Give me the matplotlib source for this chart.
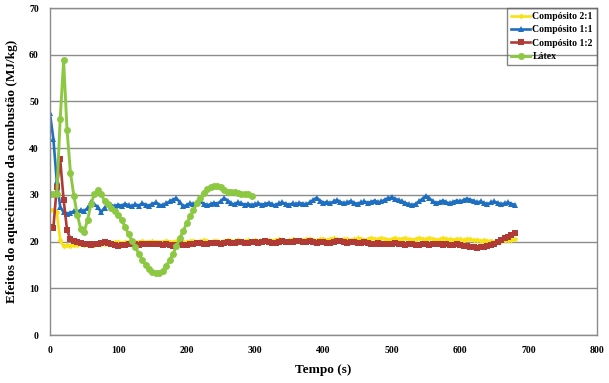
import numpy as np
import matplotlib
matplotlib.use("Agg")
import matplotlib.pyplot as plt

plt.rcParams['font.family'] = ['Liberation Serif', 'DejaVu Serif']

# tempo (s), amostras a cada 5 s
tempo = list(range(0, 685, 5))
tempo_latex = list(range(0, 300, 5))

comp_2_1 = [
    26.8, 26.8, 26.4, 20.3, 19.0, 19.2, 19.1, 19.3, 19.2, 19.4,
    19.3, 19.2, 19.4, 19.3, 19.5, 19.6, 19.5, 19.7, 19.8, 19.9,
    20.0, 19.8, 19.9, 20.0, 20.1, 19.9, 20.0, 20.1, 19.9, 20.0,
    20.1, 20.0, 19.9, 20.0, 20.2, 20.0, 19.9, 20.1, 20.0, 19.9,
    20.0, 20.1, 20.2, 20.0, 20.1, 20.3, 20.1, 20.0, 20.2, 20.1,
    20.0, 20.2, 20.3, 20.1, 20.2, 20.4, 20.2, 20.1, 20.3, 20.2,
    20.3, 20.1, 20.2, 20.4, 20.3, 20.2, 20.4, 20.5, 20.3, 20.2,
    20.3, 20.5, 20.4, 20.2, 20.3, 20.5, 20.6, 20.4, 20.3, 20.5,
    20.6, 20.4, 20.5, 20.7, 20.5, 20.4, 20.6, 20.5, 20.3, 20.5,
    20.7, 20.6, 20.4, 20.5, 20.8, 20.6, 20.5, 20.7, 20.6, 20.4,
    20.6, 20.8, 20.5, 20.6, 20.7, 20.5, 20.4, 20.6, 20.8, 20.6,
    20.5, 20.7, 20.6, 20.4, 20.5, 20.7, 20.6, 20.5, 20.4, 20.6,
    20.5, 20.4, 20.6, 20.5, 20.3, 20.4, 20.2, 20.3, 20.1, 20.2,
    20.0, 20.1, 20.2, 20.3, 20.4, 20.3, 20.5]

comp_1_1 = [
    47.5, 42.0, 33.0, 27.5, 26.3, 26.0, 26.2, 26.5, 26.4, 26.8,
    26.5, 27.2, 28.5, 28.0, 27.4, 26.3, 27.3, 28.0, 27.8, 27.6,
    27.9, 27.7, 28.1, 27.8, 27.6, 28.0, 27.7, 28.2, 27.9, 27.7,
    28.1, 28.4, 27.9, 27.8, 28.2, 28.6, 29.0, 29.3, 28.4, 27.6,
    27.8, 28.2, 28.0, 28.4, 28.6, 28.1, 27.8, 28.0, 28.3, 28.1,
    28.7, 29.3, 28.8, 28.2, 28.0, 28.4, 28.2, 27.9, 28.1, 27.8,
    28.0, 28.2, 27.9, 28.1, 28.3, 28.0, 27.8, 28.2, 28.4, 28.1,
    27.9, 28.2, 28.0, 28.3, 28.1, 28.0, 28.4, 28.9, 29.4, 28.8,
    28.3, 28.5, 28.2, 28.6, 28.9, 28.5, 28.2, 28.4, 28.7, 28.3,
    28.1, 28.4, 28.6, 28.3, 28.5, 28.8, 28.4, 28.6, 29.0, 29.3,
    29.5, 29.2, 28.9, 28.6, 28.3, 28.0, 27.8, 28.1, 28.6, 29.2,
    29.8, 29.3, 28.6, 28.3, 28.5, 28.8, 28.4, 28.2, 28.5, 28.8,
    28.6, 28.9, 29.2, 29.0, 28.7, 28.4, 28.6, 28.3, 28.0, 28.4,
    28.6, 28.3, 28.0, 28.2, 28.4, 28.1, 27.9]

comp_1_2 = [
    23.2, 22.9, 31.7, 37.6, 29.0, 22.5, 20.5, 20.2, 19.9, 19.7,
    19.6, 19.5, 19.3, 19.4, 19.6, 19.8, 20.0, 19.7, 19.4, 19.2,
    19.1, 19.3, 19.2, 19.4, 19.6, 19.4, 19.3, 19.5, 19.6, 19.4,
    19.5, 19.6, 19.4, 19.3, 19.5, 19.2, 19.1, 19.3, 19.4, 19.2,
    19.3, 19.4, 19.5, 19.7, 19.8, 19.6, 19.5, 19.7, 19.8, 19.7,
    19.6, 19.8, 19.9, 19.7, 19.8, 20.0, 19.9, 19.8, 19.7, 19.9,
    20.0, 19.8, 19.9, 20.1, 20.0, 19.8, 19.7, 19.9, 20.1, 20.0,
    19.9, 20.0, 20.2, 20.1, 19.9, 20.0, 20.1, 19.9, 19.8, 20.0,
    19.9, 19.8, 19.7, 19.9, 20.1, 20.2, 20.0, 19.8, 19.9, 20.0,
    19.8, 19.7, 19.9, 19.8, 19.6, 19.5, 19.7, 19.6, 19.5, 19.4,
    19.6, 19.7, 19.5, 19.4, 19.3, 19.5, 19.4, 19.3, 19.2, 19.4,
    19.5, 19.3, 19.4, 19.5, 19.4, 19.3, 19.4, 19.2, 19.3, 19.4,
    19.2, 19.1, 19.0, 18.9, 18.8, 18.7, 18.8, 18.9, 19.1, 19.3,
    19.6, 19.9, 20.3, 20.7, 21.1, 21.5, 21.9]

latex = [
    30.2, 30.3, 30.1, 46.2, 58.8, 43.9, 34.8, 29.8, 25.8, 22.7,
    22.1, 24.6, 28.0, 30.3, 31.0, 30.2, 28.7, 28.0, 27.3, 26.6,
    25.7, 24.6, 23.2, 21.6, 20.2, 18.8, 17.4, 16.1, 15.0, 14.2,
    13.5, 13.2, 13.3, 13.8, 14.8, 16.0, 17.4, 19.0, 20.7, 22.3,
    23.9, 25.4, 26.8, 28.2, 29.4, 30.5, 31.3, 31.8, 32.0, 31.9,
    31.6, 31.1, 30.7, 30.6, 30.7, 30.5, 30.3, 30.1, 30.3, 29.7]

fig = plt.figure(figsize=(6.09, 3.83), dpi=100)
ax = fig.add_axes([0.082, 0.125, 0.898, 0.854])

ax.plot(tempo, comp_2_1, color='#F7E313', lw=1.9, marker='D', ms=3,
        mew=0, label='Compósito 2:1')
ax.plot(tempo, comp_1_1, color='#1F6FC0', lw=1.9, marker='^', ms=4.5,
        mew=0, label='Compósito 1:1')
ax.plot(tempo, comp_1_2, color='#B03A35', lw=1.9, marker='s', ms=4.5,
        mew=0, label='Compósito 1:2')
ax.plot(tempo_latex, latex, color='#8DC843', lw=2.1, marker='o', ms=5,
        mew=0, label='Látex')

ax.set_xlim(0, 800)
ax.set_ylim(0, 70)
ax.set_xticks(range(0, 900, 100))
ax.set_yticks(range(0, 80, 10))
ax.yaxis.grid(True, color='#8C8C8C', lw=1)
ax.set_axisbelow(True)
for s in ax.spines.values():
    s.set_color('#8C8C8C')
    s.set_linewidth(1)
ax.tick_params(length=0, labelsize=7, pad=8)
for lab in ax.get_xticklabels() + ax.get_yticklabels():
    lab.set_fontweight('bold')

ax.set_xlabel('Tempo (s)', fontsize=9.5, fontweight='bold', labelpad=6)
ax.set_ylabel('Efeitos do aquecimento da combustão (MJ/kg)', fontsize=9.5,
              fontweight='bold', labelpad=8)

leg = ax.legend(loc='upper right', prop={'weight': 'bold', 'size': 7},
                frameon=True, fancybox=False, borderaxespad=0.0,
                handlelength=2.0, handletextpad=0.2, labelspacing=0.45,
                borderpad=0.4)
leg.get_frame().set_facecolor('none')
leg.get_frame().set_edgecolor('#666666')
leg.get_frame().set_linewidth(1)

fig.savefig('out.png', dpi=100)
